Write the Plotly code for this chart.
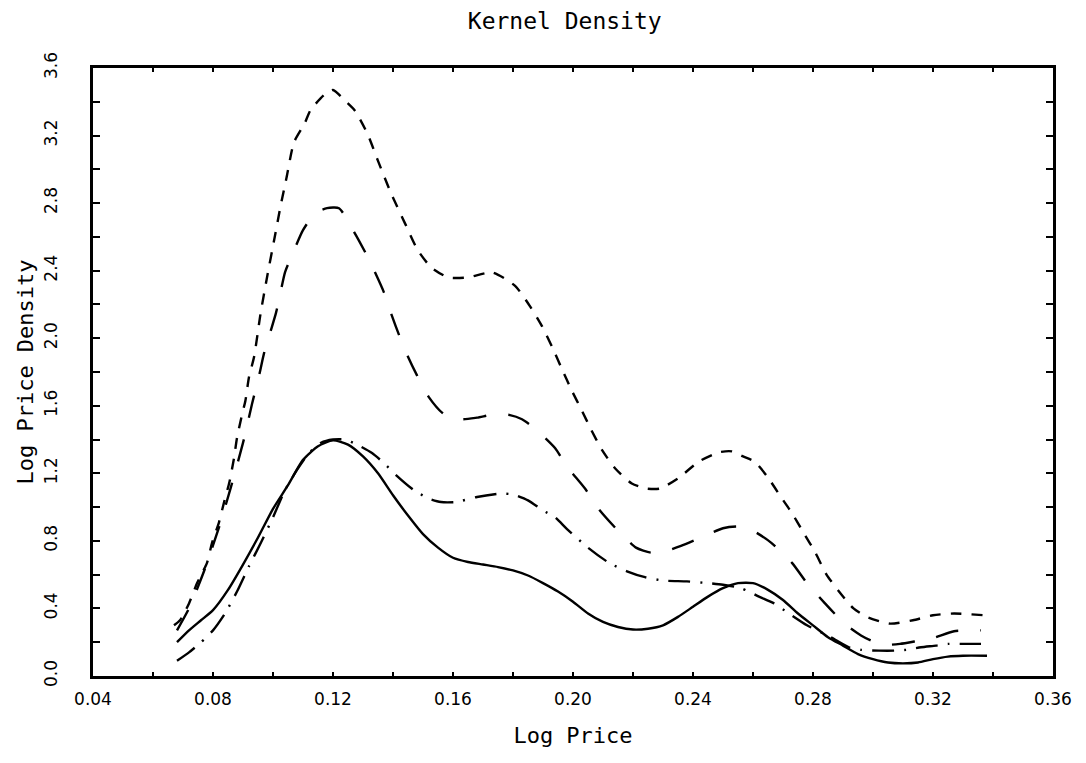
import plotly.graph_objects as go

# Kernel density estimates of log price (four bandwidth / sample variants)
x_solid = [0.068, 0.072, 0.076, 0.080, 0.085, 0.090, 0.095, 0.100, 0.105, 0.110,
           0.115, 0.120, 0.125, 0.130, 0.135, 0.140, 0.145, 0.150, 0.155, 0.160,
           0.165, 0.170, 0.175, 0.180, 0.185, 0.190, 0.195, 0.200, 0.205, 0.210,
           0.215, 0.220, 0.225, 0.230, 0.235, 0.240, 0.245, 0.250, 0.255, 0.260,
           0.265, 0.270, 0.275, 0.280, 0.285, 0.290, 0.295, 0.300, 0.305, 0.310,
           0.315, 0.320, 0.325, 0.330, 0.338]
y_solid = [0.20, 0.27, 0.33, 0.39, 0.51, 0.66, 0.82, 0.99, 1.13, 1.28,
           1.36, 1.395, 1.37, 1.30, 1.20, 1.07, 0.95, 0.84, 0.76, 0.70,
           0.675, 0.66, 0.645, 0.625, 0.595, 0.55, 0.50, 0.44, 0.37, 0.32,
           0.29, 0.275, 0.28, 0.30, 0.35, 0.41, 0.47, 0.52, 0.55, 0.55,
           0.51, 0.45, 0.37, 0.30, 0.23, 0.18, 0.13, 0.10, 0.08, 0.075,
           0.08, 0.10, 0.115, 0.12, 0.12]

x_dashdot = [0.068, 0.072, 0.076, 0.080, 0.084, 0.088, 0.092, 0.096, 0.100, 0.104,
             0.108, 0.112, 0.116, 0.120, 0.124, 0.128, 0.133, 0.137, 0.141, 0.147,
             0.152, 0.156, 0.161, 0.168, 0.176, 0.180, 0.185, 0.190, 0.194, 0.198,
             0.205, 0.212, 0.218, 0.224, 0.230, 0.238, 0.245, 0.250, 0.256, 0.262,
             0.267, 0.272, 0.278, 0.286, 0.292, 0.296, 0.302, 0.307, 0.311, 0.316,
             0.321, 0.325, 0.330, 0.336]
y_dashdot = [0.09, 0.14, 0.20, 0.27, 0.37, 0.50, 0.65, 0.79, 0.94, 1.10,
             1.22, 1.32, 1.38, 1.40, 1.40, 1.37, 1.32, 1.26, 1.19, 1.10,
             1.05, 1.03, 1.03, 1.06, 1.08, 1.075, 1.04, 0.98, 0.94, 0.87,
             0.76, 0.67, 0.62, 0.585, 0.565, 0.56, 0.55, 0.54, 0.52, 0.47,
             0.43, 0.37, 0.30, 0.23, 0.17, 0.155, 0.15, 0.15, 0.155, 0.17,
             0.18, 0.19, 0.19, 0.19]

x_longdash = [0.068, 0.072, 0.077, 0.082, 0.086, 0.090, 0.093, 0.0955, 0.097, 0.099,
              0.101, 0.1025, 0.104, 0.107, 0.110, 0.114, 0.118, 0.122, 0.127, 0.131,
              0.134, 0.137, 0.1395, 0.142, 0.145, 0.148, 0.152, 0.157, 0.163, 0.168,
              0.174, 0.179, 0.183, 0.187, 0.194, 0.198, 0.204, 0.2085, 0.2145, 0.221,
              0.226, 0.231, 0.236, 0.244, 0.250, 0.255, 0.260, 0.266, 0.273, 0.278,
              0.284, 0.2905, 0.296, 0.300, 0.305, 0.309, 0.314, 0.320, 0.327, 0.336]
y_longdash = [0.27, 0.40, 0.62, 0.88, 1.12, 1.38, 1.61, 1.79, 1.91, 2.03,
              2.15, 2.27, 2.39, 2.52, 2.64, 2.74, 2.77, 2.77, 2.63, 2.50,
              2.39, 2.27, 2.14, 2.02, 1.89, 1.78, 1.65, 1.55, 1.52, 1.53,
              1.55, 1.545, 1.52, 1.47, 1.35, 1.24, 1.11, 0.99, 0.87, 0.76,
              0.73, 0.74, 0.77, 0.83, 0.875, 0.885, 0.86, 0.79, 0.67, 0.55,
              0.43, 0.31, 0.24, 0.205, 0.185, 0.19, 0.205, 0.225, 0.265, 0.27]

x_shortdash = [0.067, 0.069, 0.072, 0.0747, 0.078, 0.0797, 0.082, 0.0837, 0.0855, 0.087,
               0.088, 0.0897, 0.0908, 0.092, 0.0937, 0.0958, 0.098, 0.1008, 0.1025, 0.1045,
               0.107, 0.1105, 0.1125, 0.117, 0.120, 0.1238, 0.1272, 0.1315, 0.135, 0.1393,
               0.144, 0.1483, 0.1527, 0.1584, 0.165, 0.173, 0.1807, 0.186, 0.1897, 0.193,
               0.196, 0.1996, 0.203, 0.206, 0.2096, 0.214, 0.2196, 0.2245, 0.229, 0.235,
               0.242, 0.2487, 0.253, 0.2567, 0.2605, 0.2648, 0.2693, 0.2728, 0.2768, 0.2808,
               0.2845, 0.2896, 0.2935, 0.2979, 0.3057, 0.3133, 0.320, 0.327, 0.3368]
y_shortdash = [0.30, 0.33, 0.43, 0.55, 0.67, 0.79, 0.91, 1.03, 1.15, 1.29,
               1.41, 1.55, 1.63, 1.77, 1.89, 2.14, 2.36, 2.62, 2.78, 2.95,
               3.16, 3.27, 3.35, 3.44, 3.47, 3.41, 3.35, 3.21, 3.05, 2.86,
               2.68, 2.52, 2.42, 2.36, 2.36, 2.39, 2.31, 2.18, 2.07, 1.95,
               1.83, 1.69, 1.57, 1.46, 1.34, 1.23, 1.14, 1.11, 1.11, 1.17,
               1.27, 1.325, 1.33, 1.30, 1.27, 1.18, 1.06, 0.97, 0.85, 0.73,
               0.60, 0.48, 0.40, 0.35, 0.31, 0.33, 0.36, 0.37, 0.36]

x_tick_vals = [0.04 + 0.02 * i for i in range(17)]
x_tick_text = ["0.04", "", "0.08", "", "0.12", "", "0.16", "", "0.20", "",
               "0.24", "", "0.28", "", "0.32", "", "0.36"]
y_tick_vals = [0.2 * i for i in range(19)]
y_tick_text = ["0.0", "", "0.4", "", "0.8", "", "1.2", "", "1.6", "",
               "2.0", "", "2.4", "", "2.8", "", "3.2", "", "3.6"]

TICK_FONT = "DejaVu Sans"
LABEL_FONT = "DejaVu Sans Mono"

fig = go.Figure()

series = [
    (x_shortdash, y_shortdash, "11px,10px"),
    (x_longdash, y_longdash, "23px,22px"),
    (x_dashdot, y_dashdot, "22px,10px,2px,10px"),
    (x_solid, y_solid, "solid"),
]
for xs, ys, dash in series:
    fig.add_trace(go.Scatter(
        x=xs, y=ys, mode="lines",
        line=dict(color="black", width=2.4, dash=dash, shape="spline", smoothing=0.6),
        hoverinfo="skip",
    ))

fig.update_layout(
    width=1086, height=763,
    margin=dict(l=93, r=33, t=68, b=87),
    paper_bgcolor="white", plot_bgcolor="white",
    showlegend=False,
    title=dict(text="Kernel Density", x=0.52, xanchor="center",
               y=0.973, yanchor="middle", yref="container",
               font=dict(family=LABEL_FONT, size=23, color="black")),
)

fig.update_xaxes(
    range=[0.04, 0.36], tickvals=x_tick_vals, ticktext=x_tick_text,
    ticks="inside", ticklen=4, tickwidth=1.5, tickcolor="black",
    showline=True, linewidth=3, linecolor="black", mirror="allticks",
    showgrid=False, zeroline=False,
    tickfont=dict(family=TICK_FONT, size=17, color="black"),
    ticklabelstandoff=6,
    title=dict(text="Log Price", standoff=20,
               font=dict(family=LABEL_FONT, size=22, color="black")),
)
fig.update_yaxes(
    range=[0, 3.6], tickvals=y_tick_vals, ticktext=y_tick_text,
    ticks="inside", ticklen=7, tickwidth=1.5, tickcolor="black",
    showline=True, linewidth=3, linecolor="black", mirror="allticks",
    showgrid=False, zeroline=False, tickangle=-90,
    tickfont=dict(family=TICK_FONT, size=17, color="black"),
    ticklabelstandoff=26,
    title=dict(text="Log Price Density", standoff=2,
               font=dict(family=LABEL_FONT, size=22, color="black")),
)

fig.write_html("out.html")
